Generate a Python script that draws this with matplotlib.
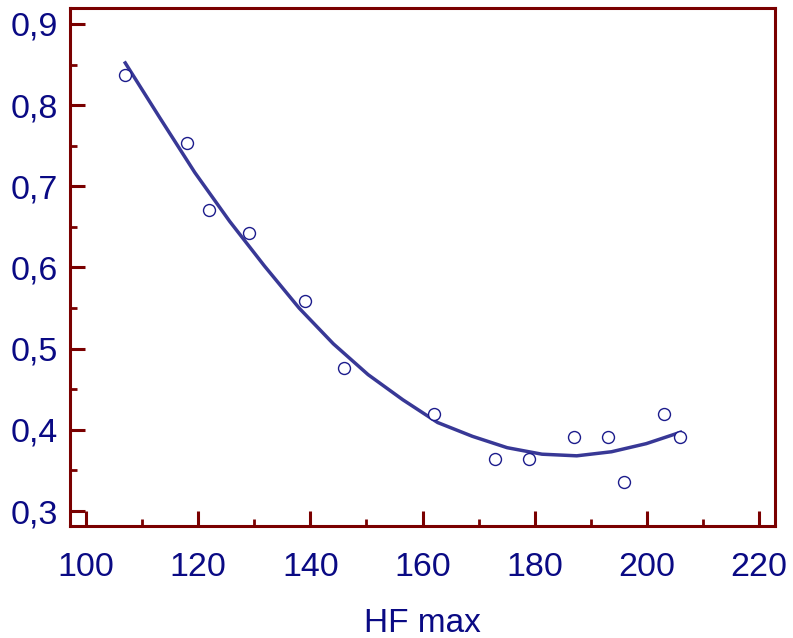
import matplotlib
matplotlib.use("Agg")
import matplotlib.pyplot as plt
from matplotlib.ticker import MultipleLocator, FuncFormatter

# Observed values
hf_max = [107, 118, 122, 129, 139, 146, 162, 173, 179, 187, 193, 196, 203, 206]
ratio = [0.837, 0.753, 0.671, 0.643, 0.559, 0.476, 0.420, 0.364, 0.364,
         0.391, 0.391, 0.336, 0.420, 0.391]

# Smoothed trend line
trend_x = [107.0, 113.2, 119.4, 125.6, 131.8, 138.0, 144.1, 150.3, 156.5,
           162.7, 168.9, 175.1, 181.3, 187.5, 193.7, 199.9, 206.0]
trend_y = [0.852, 0.784, 0.717, 0.657, 0.602, 0.550, 0.506, 0.468, 0.437,
           0.409, 0.392, 0.378, 0.370, 0.368, 0.373, 0.383, 0.397]

x_label = "HF max"

frame_col = "#7a0000"
text_col = "#0a0a84"
line_col = "#383896"
marker_col = "#1c1c8c"

plt.rcParams["font.family"] = ["Liberation Sans", "DejaVu Sans"]

fig = plt.figure(figsize=(7.93, 6.38), dpi=100)
ax = fig.add_axes([0.0883, 0.1755, 0.8890, 0.812])

ax.plot(trend_x, trend_y, color=line_col, lw=2.5, solid_joinstyle="round", zorder=2)
ax.plot(hf_max, ratio, linestyle="none", marker="o", markersize=8.6,
        markerfacecolor="white", markeredgecolor=marker_col, markeredgewidth=1.0, zorder=3)

ax.set_xlim(97.15, 222.85)
ax.set_ylim(0.2815, 0.9197)

ax.xaxis.set_major_locator(MultipleLocator(20))
ax.xaxis.set_minor_locator(MultipleLocator(10))
ax.yaxis.set_major_locator(MultipleLocator(0.1))
ax.yaxis.set_minor_locator(MultipleLocator(0.05))
ax.yaxis.set_major_formatter(FuncFormatter(lambda v, p: f"{v:.1f}".replace(".", ",")))

for side in ["left", "right", "top", "bottom"]:
    ax.spines[side].set_color(frame_col)
    ax.spines[side].set_linewidth(2.2)

ax.tick_params(axis="both", which="major", direction="in", length=11, width=2.2,
               color=frame_col, labelcolor=text_col, labelsize=24.5)
ax.tick_params(axis="both", which="minor", direction="in", length=5, width=2.0,
               color=frame_col)
ax.tick_params(axis="x", which="both", pad=18.7)
ax.tick_params(axis="y", which="both", pad=8.5)

ax.set_xlabel(x_label, color=text_col, fontsize=24, labelpad=18)

fig.savefig("out.png", dpi=100, facecolor="white")
